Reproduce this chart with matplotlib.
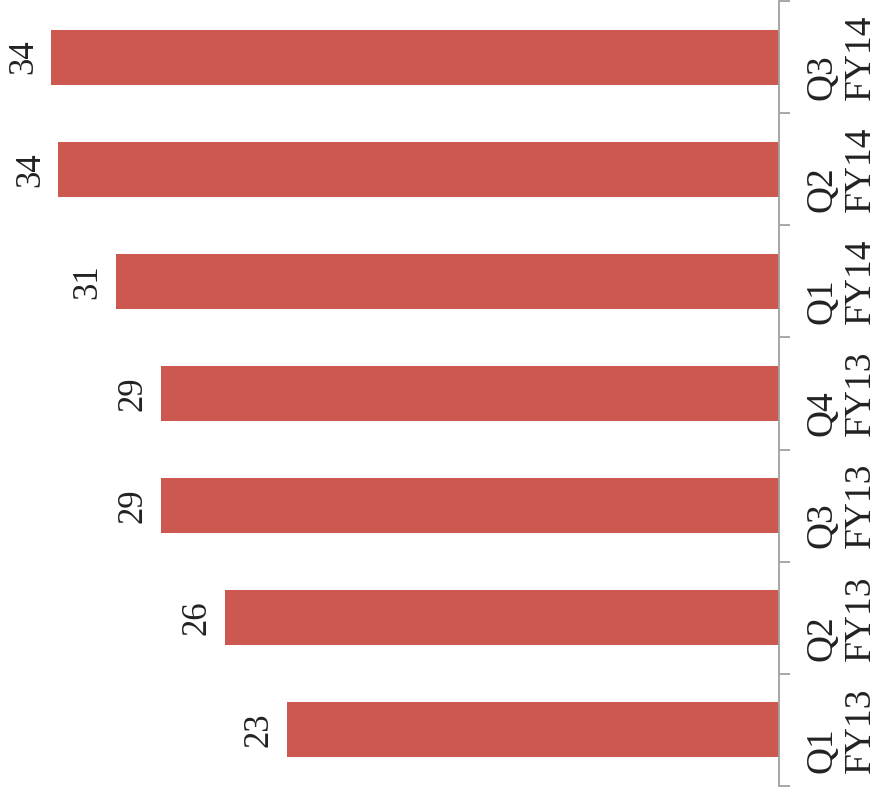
import numpy as np
import matplotlib
matplotlib.use("Agg")
import matplotlib.pyplot as plt

# quarterly values, bottom to top
quarters = ["Q1\nFY13", "Q2\nFY13", "Q3\nFY13", "Q4\nFY13", "Q1\nFY14", "Q2\nFY14", "Q3\nFY14"]
values = [23.0, 25.9, 28.9, 28.9, 31.0, 33.7, 34.0]
value_labels = ["23", "26", "29", "29", "31", "34", "34"]

plt.rcParams["font.family"] = ["Liberation Serif", "DejaVu Serif"]

fig = plt.figure(figsize=(8.85, 7.9), dpi=100)
ax = fig.add_axes([0, 4 / 790, 779 / 885, 785 / 790])

pos = np.arange(len(quarters))
ax.barh(pos, values, height=0.49, color="#cd5850")

for y, v, lab in zip(pos, values, value_labels):
    ax.annotate(lab, (v, y), xytext=(-11, 0), textcoords="offset pixels",
                rotation=90, ha="right", va="center", fontsize=25, color="#222222")

ax.set_xlim(36.4, 0)
ax.set_ylim(-0.5, len(quarters) - 0.5)

ax.yaxis.tick_right()
ax.set_yticks(pos)
ax.set_yticklabels(quarters, rotation=90, va="center", ha="left",
                   fontsize=27, color="#222222", linespacing=1.12)
ax.set_yticks(np.arange(-0.5, len(quarters), 1), minor=True)
ax.tick_params(axis="y", which="major", length=0, pad=19)
ax.tick_params(axis="y", which="minor", length=8, width=1.3, color="#a0a0a0")

ax.set_xticks([])
for s in ["left", "top", "bottom"]:
    ax.spines[s].set_visible(False)
ax.spines["right"].set_color("#a0a0a0")
ax.spines["right"].set_linewidth(1.3)

fig.savefig("out.png", dpi=100)
